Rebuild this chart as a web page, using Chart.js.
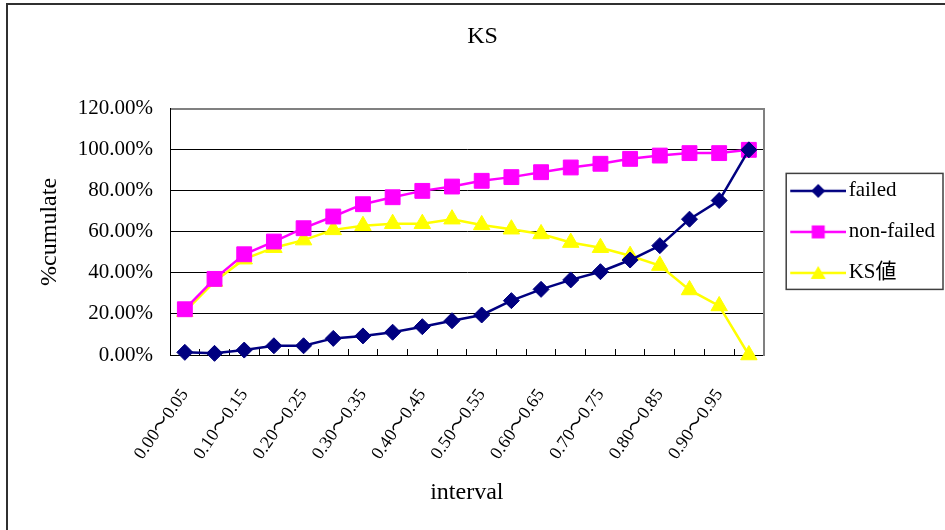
<!DOCTYPE html>
<html>
<head>
<meta charset="utf-8">
<title>KS</title>
<script src="https://cdn.jsdelivr.net/npm/chart.js@4/dist/chart.umd.min.js"></script>
<style>
  html, body { margin: 0; padding: 0; background: #fff; overflow: hidden; }
  canvas { display: block; }
</style>
</head>
<body>
<canvas id="ks-chart" width="945" height="530"></canvas>
<script>
// Data (percent)
const intervals = [
    '0.00～0.05', '0.05～0.10', '0.10～0.15', '0.15～0.20', '0.20～0.25',
    '0.25～0.30', '0.30～0.35', '0.35～0.40', '0.40～0.45', '0.45～0.50',
    '0.50～0.55', '0.55～0.60', '0.60～0.65', '0.65～0.70', '0.70～0.75',
    '0.75～0.80', '0.80～0.85', '0.85～0.90', '0.90～0.95', '0.95～1.00'
];
const failed = [1.3, 0.8, 2.4, 4.5, 4.5, 8.1, 9.3, 11.1, 13.8, 16.7,
    19.5, 26.5, 32.0, 36.6, 40.6, 46.3, 53.3, 66.2, 75.3, 100];
const nonFailed = [22.3, 37.1, 49.1, 55.3, 61.8, 67.5, 73.5, 76.9, 80.0, 82.1,
    84.9, 86.7, 89.1, 91.4, 93.2, 95.6, 97.2, 98.4, 98.4, 100];
const ksValue = [21.1, 35.8, 46.7, 52.3, 56.0, 61.0, 63.0, 64.0, 64.0, 66.2,
    63.4, 61.3, 59.0, 54.8, 52.3, 48.4, 43.6, 31.7, 23.9, 0];
const yTicks = [0, 20, 40, 60, 80, 100, 120];

const seriesNames = ['failed', 'non-failed', 'KS値'];
const seriesColors = ['#000080', '#FF00FF', '#FFFF00'];

const serif = '"Liberation Serif", "Times New Roman", "Noto Sans CJK JP", serif';

// Legend icon: short line with the marker in the middle (Excel style)
function legendIcon(color, style) {
    const c = document.createElement('canvas');
    c.width = 62;
    c.height = 20;
    const g = c.getContext('2d');
    const cx = 34;
    g.strokeStyle = color;
    g.lineWidth = 2.5;
    g.beginPath();
    g.moveTo(6, 10);
    g.lineTo(62, 10);
    g.stroke();
    g.fillStyle = color;
    g.beginPath();
    if (style === 'diamond') {
        g.moveTo(cx - 7, 10); g.lineTo(cx, 3); g.lineTo(cx + 7, 10); g.lineTo(cx, 17);
    } else if (style === 'square') {
        g.rect(cx - 6.5, 3.5, 13, 13);
    } else {
        g.moveTo(cx, 3); g.lineTo(cx + 7.5, 16); g.lineTo(cx - 7.5, 16);
    }
    g.closePath();
    g.fill();
    return c;
}
const legendIcons = [
    legendIcon(seriesColors[0], 'diamond'),
    legendIcon(seriesColors[1], 'square'),
    legendIcon(seriesColors[2], 'triangle')
];

// Outer frame and legend box
const framePlugin = {
    id: 'frames',
    beforeDraw(chart) {
        const ctx = chart.ctx;
        ctx.save();
        ctx.fillStyle = '#fff';
        ctx.fillRect(0, 0, chart.width, chart.height);
        ctx.strokeStyle = '#303030';
        ctx.lineWidth = 2;
        ctx.strokeRect(7, 4, chart.width + 20, chart.height + 20);
        ctx.restore();
    },
    afterDraw(chart) {
        const boxes = chart.legend.legendHitBoxes;
        if (!boxes || !boxes.length) return;
        const first = boxes[0];
        const last = boxes[boxes.length - 1];
        const ctx = chart.ctx;
        ctx.save();
        ctx.strokeStyle = '#404040';
        ctx.lineWidth = 1.5;
        const left = first.left - 6;
        const top = first.top - 7;
        ctx.strokeRect(left, top, chart.width - 2 - left, last.top + last.height + 6 - top);
        ctx.restore();
    }
};

const ctx = document.getElementById('ks-chart').getContext('2d');
const ksChart = new Chart(ctx, {
    type: 'line',
    data: {
        labels: intervals,
        datasets: [{
            label: seriesNames[0],
            data: failed,
            borderColor: seriesColors[0],
            backgroundColor: seriesColors[0],
            borderWidth: 2.5,
            pointStyle: 'rectRot',
            pointRadius: 8,
            pointBorderWidth: 1,
            tension: 0,
            clip: false
        }, {
            label: seriesNames[1],
            data: nonFailed,
            borderColor: seriesColors[1],
            backgroundColor: seriesColors[1],
            borderWidth: 2.5,
            pointStyle: 'rect',
            pointRadius: 10.5,
            pointBorderWidth: 1,
            tension: 0,
            clip: false
        }, {
            label: seriesNames[2],
            data: ksValue,
            borderColor: seriesColors[2],
            backgroundColor: seriesColors[2],
            borderWidth: 2.5,
            pointStyle: 'triangle',
            pointRadius: 9.5,
            pointBorderWidth: 1,
            tension: 0,
            clip: false
        }]
    },
    options: {
        responsive: false,
        animation: false,
        layout: { padding: { left: 20, right: 0, top: 0, bottom: 0 } },
        plugins: {
            title: {
                display: true,
                text: 'KS',
                color: '#000',
                font: { family: serif, size: 24, weight: 'normal' },
                padding: { top: 22, bottom: 58 }
            },
            legend: {
                position: 'right',
                fullSize: false,
                maxWidth: 260,
                labels: {
                    color: '#000',
                    font: { family: serif, size: 21 },
                    padding: 20,
                    usePointStyle: true,
                    pointStyleWidth: 46,
                    generateLabels(chart) {
                        const items = Chart.defaults.plugins.legend.labels.generateLabels(chart);
                        items.forEach((item, i) => { item.pointStyle = legendIcons[i]; });
                        return items;
                    }
                }
            },
            tooltip: { enabled: false }
        },
        scales: {
            x: {
                offset: true,
                grid: {
                    offset: true,
                    drawOnChartArea: false,
                    drawTicks: true,
                    tickLength: -6,
                    color: '#000'
                },
                border: { display: true, color: '#000', width: 1 },
                ticks: {
                    autoSkip: false,
                    minRotation: 55,
                    maxRotation: 55,
                    padding: 36,
                    color: '#000',
                    font: { family: serif, size: 18 },
                    callback(value, index) {
                        return index % 2 === 0 ? this.getLabelForValue(value) : '';
                    }
                },
                title: {
                    display: true,
                    text: 'interval',
                    color: '#000',
                    font: { family: serif, size: 24 },
                    padding: { top: 0, bottom: 23 }
                },
                afterFit(scale) { scale.height = 175; }
            },
            y: {
                min: 0,
                max: 120,
                afterBuildTicks(scale) { scale.ticks = yTicks.map(v => ({ value: v })); },
                grid: {
                    drawTicks: false,
                    color: c => c.tick && c.tick.value === 120 ? '#808080' : '#000',
                    lineWidth: c => c.tick && c.tick.value === 120 ? 2 : 1
                },
                border: { display: true, color: '#000', width: 1 },
                ticks: {
                    padding: 17,
                    color: '#000',
                    font: { family: serif, size: 21 },
                    callback: v => v.toFixed(2) + '%'
                },
                title: {
                    display: true,
                    text: '%cumulate',
                    color: '#000',
                    font: { family: serif, size: 24 },
                    padding: { top: 15, bottom: 0 }
                },
                afterFit(scale) { scale.width = 150; }
            },
            yRight: {
                type: 'linear',
                position: 'right',
                display: true,
                min: 0,
                max: 120,
                grid: { display: false, drawTicks: false },
                ticks: { display: false },
                border: { display: true, color: '#808080', width: 2 },
                afterFit(scale) { scale.width = 8.5; }
            }
        }
    },
    plugins: [framePlugin]
});
</script>
</body>
</html>
